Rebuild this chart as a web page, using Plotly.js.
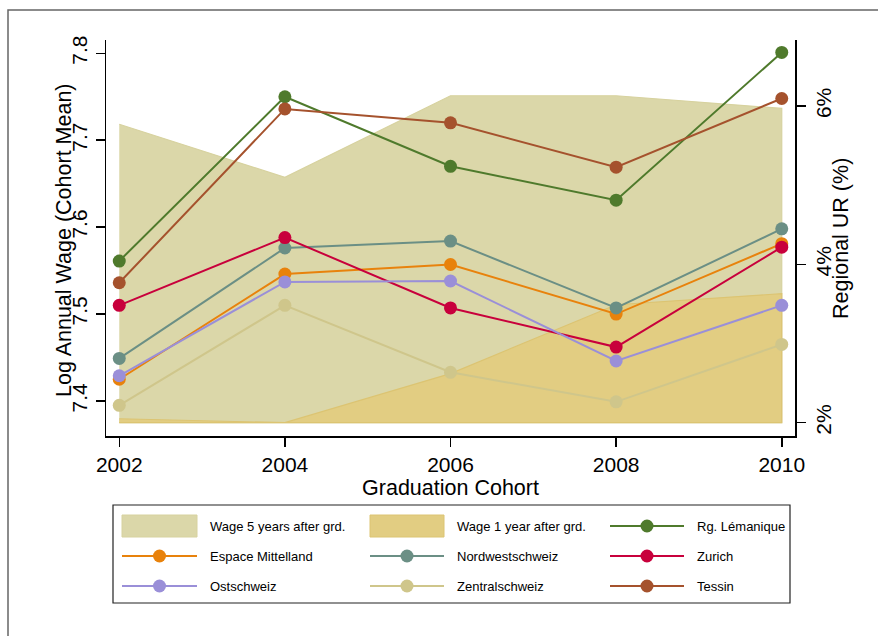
<!DOCTYPE html>
<html>
<head>
<meta charset="utf-8">
<script src="https://cdn.plot.ly/plotly-3.0.1.min.js"></script>
<style>
  html, body { margin: 0; padding: 0; background: #fff; }
  #chart { width: 878px; height: 636px; }
</style>
</head>
<body>
<div id="chart"></div>
<script>
// ---- data ----
const cohorts = [2002, 2004, 2006, 2008, 2010];
const ur5yr = [5.77, 5.10, 6.13, 6.13, 5.97];
const ur1yr = [2.05, 2.00, 2.62, 3.49, 3.63];
const urBase = 2;
const lemanique  = [7.561, 7.750, 7.670, 7.631, 7.801];
const mittelland = [7.425, 7.546, 7.557, 7.500, 7.581];
const nordwest   = [7.449, 7.576, 7.584, 7.507, 7.598];
const zurich     = [7.510, 7.588, 7.507, 7.462, 7.577];
const ostschweiz = [7.429, 7.537, 7.538, 7.446, 7.510];
const zentral    = [7.395, 7.510, 7.433, 7.399, 7.465];
const tessin     = [7.536, 7.736, 7.720, 7.669, 7.748];

const wageTicks = [7.4, 7.5, 7.6, 7.7, 7.8];
const urTicks = [2, 4, 6];
const urTickText = ['2%', '4%', '6%'];
const xTitle = 'Graduation Cohort';
const wageTitle = 'Log Annual Wage (Cohort Mean)';
const urTitle = 'Regional UR (%)';

const areaSeries = [
  {name: 'Wage 5 years after grd.', y: ur5yr, fill: '#dbd7a9', edge: '#d7d29f'},
  {name: 'Wage 1 year after grd.',  y: ur1yr, fill: '#e2cd82', edge: '#dcc472'}
];
const lineSeries = [
  {name: 'Rg. Lémanique',     y: lemanique,  color: '#4f7a2c'},
  {name: 'Espace Mittelland', y: mittelland, color: '#e8820c'},
  {name: 'Nordwestschweiz',   y: nordwest,   color: '#6b8f85'},
  {name: 'Zurich',            y: zurich,     color: '#c8003c'},
  {name: 'Ostschweiz',        y: ostschweiz, color: '#9a8fd8'},
  {name: 'Zentralschweiz',    y: zentral,    color: '#cfc68b'},
  {name: 'Tessin',            y: tessin,     color: '#a5522d'}
];

// ---- geometry ----
const W = 878, H = 636;
const M = {l: 106, r: 83, t: 40, b: 200};
const PW = W - M.l - M.r, PH = H - M.t - M.b;
const px = x => (x - M.l) / PW;
const py = y => (H - M.b - y) / PH;

const traces = [];
areaSeries.forEach(s => {
  traces.push({
    type: 'scatter', mode: 'lines', name: s.name,
    x: cohorts.concat(cohorts.slice().reverse()),
    y: s.y.concat(cohorts.map(() => urBase)),
    fill: 'toself', fillcolor: s.fill,
    line: {color: s.edge, width: 1.2},
    xaxis: 'x', yaxis: 'y', showlegend: false, hoverinfo: 'skip'
  });
});
lineSeries.forEach(s => {
  traces.push({
    type: 'scatter', mode: 'lines+markers', name: s.name,
    x: cohorts, y: s.y,
    line: {color: s.color, width: 2},
    marker: {color: s.color, size: 13},
    xaxis: 'x', yaxis: 'y2', showlegend: false
  });
});

// ---- manual legend (Stata style) ----
const shapes = [];
const annotations = [];
const fontFam = '"Liberation Sans", Arial, Helvetica, sans-serif';

// outer frame
shapes.push({type: 'rect', xref: 'paper', yref: 'paper',
  x0: px(8), x1: px(880), y0: py(10), y1: py(640),
  line: {color: '#666', width: 1.5}, fillcolor: 'rgba(0,0,0,0)'});
// legend box
shapes.push({type: 'rect', xref: 'paper', yref: 'paper',
  x0: px(113), x1: px(790), y0: py(505), y1: py(603),
  line: {color: '#222', width: 1.2}, fillcolor: 'rgba(0,0,0,0)'});

const colKey = [[122, 197], [370, 444], [610, 684]];
const colText = [208, 455, 695];
const rowY = [526, 556, 586];
const legendItems = areaSeries.map(s => ({type: 'area', s}))
  .concat(lineSeries.map(s => ({type: 'line', s})));
legendItems.forEach((it, i) => {
  const r = Math.floor(i / 3), c = i % 3;
  const yc = rowY[r];
  const [k0, k1] = colKey[c];
  if (it.type === 'area') {
    shapes.push({type: 'rect', xref: 'paper', yref: 'paper',
      x0: px(k0), x1: px(k1), y0: py(yc + 11), y1: py(yc - 11),
      fillcolor: it.s.fill, line: {color: it.s.edge, width: 1}});
  } else {
    shapes.push({type: 'line', xref: 'paper', yref: 'paper',
      x0: px(k0), x1: px(k1), y0: py(yc), y1: py(yc),
      line: {color: it.s.color, width: 2}});
    const km = (k0 + k1) / 2;
    shapes.push({type: 'circle', xref: 'paper', yref: 'paper',
      x0: px(km - 6.5), x1: px(km + 6.5), y0: py(yc + 6.5), y1: py(yc - 6.5),
      fillcolor: it.s.color, line: {width: 0}});
  }
  annotations.push({xref: 'paper', yref: 'paper', x: px(colText[c]), y: py(yc),
    xanchor: 'left', yanchor: 'middle', showarrow: false, text: it.s.name,
    font: {size: 13, color: '#000', family: fontFam}});
});

// y-axis titles placed as rotated labels
annotations.push({xref: 'paper', yref: 'paper', x: px(64), y: py(240),
  xanchor: 'center', yanchor: 'middle', showarrow: false, textangle: -90,
  text: wageTitle, font: {size: 21.5, color: '#000', family: fontFam}});
annotations.push({xref: 'paper', yref: 'paper', x: px(841), y: py(239),
  xanchor: 'center', yanchor: 'middle', showarrow: false, textangle: -90,
  text: urTitle, font: {size: 21.5, color: '#000', family: fontFam}});

const axisCommon = {
  showgrid: false, zeroline: false, showline: true,
  linecolor: '#000', linewidth: 1.5,
  ticks: 'outside', ticklen: 9, tickwidth: 1.5, tickcolor: '#000',
  tickfont: {size: 21, color: '#000', family: fontFam}
};

const layout = {
  width: W, height: H,
  margin: M,
  paper_bgcolor: '#fff', plot_bgcolor: '#fff',
  font: {family: fontFam, color: '#000'},
  showlegend: false,
  xaxis: Object.assign({}, axisCommon, {
    range: [2001.84, 2010.16],
    tickvals: cohorts, ticktext: cohorts.map(String),
    title: {text: xTitle, font: {size: 21.5, family: fontFam}, standoff: 0}
  }),
  yaxis: Object.assign({}, axisCommon, {
    side: 'right',
    range: [1.832, 6.834],
    tickvals: urTicks, ticktext: urTickText, tickangle: -90
  }),
  yaxis2: Object.assign({}, axisCommon, {
    side: 'left', overlaying: 'y',
    range: [7.3597, 7.8153],
    tickvals: wageTicks, ticktext: wageTicks.map(v => v.toFixed(1)), tickangle: -90
  }),
  shapes: shapes,
  annotations: annotations
};

Plotly.newPlot('chart', traces, layout, {displayModeBar: false, staticPlot: true});
</script>
</body>
</html>
